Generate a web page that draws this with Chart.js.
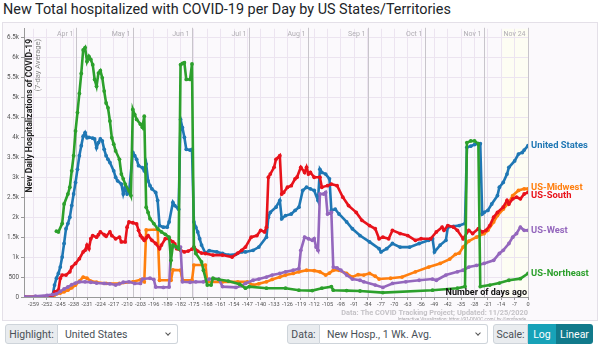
<!DOCTYPE html>
<html>
<head>
<meta charset="utf-8">
<script src="https://cdn.jsdelivr.net/npm/chart.js@4"></script>
<style>
  body { margin: 0; width: 600px; height: 349px; overflow: hidden; background: #fff; font-family: Roboto, sans-serif; position: relative; }
  #title { position: absolute; left: 3px; top: 1px; font-size: 14.4px; color: #212529; white-space: nowrap; }
  #box { position: absolute; left: 2px; top: 22px; width: 596px; height: 299px; box-sizing: border-box; border: 1px solid #e4e0e8; background: #fbf9fc; }
  #box canvas { position: absolute; left: 0; top: 0; }
  .grp { position: absolute; top: 324px; height: 20px; display: flex; font-size: 10.5px; color: #495057; }
  .lbl { background: #e9ecef; border: 1px solid #ced4da; border-radius: 3px 0 0 3px; box-sizing: border-box; display: flex; align-items: center; justify-content: center; }
  .sel { background: #fff; border: 1px solid #ced4da; border-left: none; border-radius: 0 3px 3px 0; box-sizing: border-box; display: flex; align-items: center; padding-left: 7px; position: relative; }
  .chev { position: absolute; right: 7px; top: 6px; width: 3px; height: 3px; border-right: 1.2px solid #555; border-bottom: 1.2px solid #555; transform: rotate(45deg); }
  .btn { color: #fff; display: flex; align-items: center; justify-content: center; box-sizing: border-box; }
</style>
</head>
<body>
<div id="title">New Total hospitalized with COVID-19 per Day by US States/Territories</div>
<div id="box"><canvas id="myChart" width="594" height="297"></canvas></div>

<div class="grp" style="left:5px;">
  <div class="lbl" style="width:53px;">Highlight:</div>
  <div class="sel" style="width:120px;">United States<span class="chev"></span></div>
</div>
<div class="grp" style="left:287px;">
  <div class="lbl" style="width:33px;">Data:</div>
  <div class="sel" style="width:168px;">New Hosp., 1 Wk. Avg.<span class="chev"></span></div>
</div>
<div class="grp" style="left:493px;">
  <div class="lbl" style="width:35px;">Scale:</div>
  <div class="btn" style="width:28px; background:#17a2b8;">Log</div>
  <div class="btn" style="width:37px; background:#117a8b; border-radius:0 3px 3px 0;">Linear</div>
</div>

<script>
// Data (days before Nov 24, 2020 -> hospitalizations, 7-day avg)
const usDays = [-264, -250, -249, -248, -247, -246, -245, -244, -243, -242, -241, -240, -239, -238, -237, -236, -235, -234, -233, -232, -231, -230, -228, -227, -226, -225, -224, -223, -222, -221, -220, -219, -217, -216, -215, -213, -212, -211, -210, -209, -207, -206, -205, -204, -202, -201, -200, -199, -198, -197, -195, -194, -193, -191, -189, -188, -186, -185, -183, -182, -181, -180, -179, -177, -176, -175, -174, -173, -172, -171, -169, -167, -163, -160, -157, -153, -150, -148, -144, -141, -137, -136, -135, -132, -130, -129, -127, -124, -122, -120, -118, -116, -114, -112, -110, -109, -108, -106, -104, -103, -101, -99, -95, -92, -88, -83, -78, -77, -74, -71, -67, -62, -57, -52, -50, -49, -46, -43, -42, -39, -36, -33, -32, -30, -28, -26, -25, -24, -23, -21, -19, -16, -15, -13, -11, -10, -7, -5, -3, -2, 0];
const usValues = [0, 0, 50, 300, 470, 590, 750, 1000, 1340, 1710, 1840, 2000, 2290, 2580, 2870, 3200, 3540, 3790, 4030, 4120, 3990, 4000, 3980, 3960, 3740, 3870, 3960, 3910, 3700, 3540, 3450, 3370, 3160, 3000, 2910, 2830, 2580, 2750, 2580, 2620, 3620, 3540, 3450, 3290, 3240, 3160, 3330, 2910, 2790, 2710, 2620, 2420, 1790, 1750, 1750, 1880, 2370, 2290, 2200, 4450, 4240, 4000, 3700, 3680, 3700, 1880, 1750, 1630, 1460, 1300, 1100, 1160, 1130, 1090, 1050, 1070, 1130, 1130, 1170, 1250, 1500, 2000, 2120, 2250, 2420, 1960, 2040, 2080, 2170, 2250, 2670, 2750, 2710, 2670, 2420, 3200, 3120, 3080, 2960, 2170, 2200, 2080, 1880, 1710, 1540, 1380, 1210, 1130, 1210, 1340, 1250, 1250, 1340, 1420, 1460, 1130, 1300, 1420, 1750, 1770, 1790, 1840, 3750, 3780, 3820, 3840, 3840, 2080, 2120, 2170, 2330, 2540, 2750, 2870, 3080, 3250, 3410, 3580, 3620, 3680, 3790];

const mwDays = [-264, -252, -248, -245, -243, -241, -239, -237, -235, -233, -231, -229, -226, -221, -214, -207, -203, -201, -200, -194, -193, -187, -186, -182, -181, -176, -175, -169, -168, -160, -152, -147, -144, -141, -137, -134, -130, -127, -123, -120, -116, -112, -109, -106, -104, -102, -99, -95, -92, -89, -86, -83, -80, -78, -72, -66, -59, -52, -46, -41, -38, -36, -34, -31, -27, -23, -21, -18, -16, -13, -10, -8, -5, -2, 0];
const mwValues = [5, 20, 50, 100, 130, 170, 230, 300, 400, 500, 470, 400, 370, 340, 340, 380, 430, 380, 1680, 1690, 420, 420, 680, 670, 420, 420, 800, 800, 380, 380, 380, 380, 300, 330, 380, 440, 500, 550, 590, 630, 670, 660, 630, 550, 600, 670, 670, 590, 500, 560, 550, 590, 520, 450, 470, 500, 630, 750, 840, 950, 1070, 1100, 1250, 1400, 1500, 1590, 1670, 1880, 2040, 2200, 2370, 2540, 2670, 2710, 2710];

const southDays = [-264, -250, -249, -248, -246, -245, -244, -242, -240, -239, -237, -235, -233, -232, -231, -230, -229, -228, -226, -225, -224, -222, -221, -219, -218, -216, -214, -213, -211, -210, -209, -207, -205, -204, -203, -202, -201, -200, -199, -197, -195, -193, -192, -190, -188, -186, -185, -184, -182, -180, -178, -176, -175, -173, -171, -169, -165, -160, -155, -152, -150, -148, -145, -142, -140, -138, -137, -136, -135, -133, -132, -130, -129, -128, -126, -124, -122, -121, -119, -117, -116, -115, -114, -112, -109, -108, -105, -103, -100, -97, -94, -90, -87, -83, -80, -78, -76, -73, -71, -67, -63, -59, -56, -51, -48, -45, -44, -42, -39, -37, -34, -31, -29, -26, -24, -22, -20, -18, -16, -13, -11, -10, -8, -6, -4, -2, 0];
const southValues = [0, 0, 50, 130, 170, 470, 550, 550, 630, 750, 840, 960, 1130, 1170, 1300, 1210, 1460, 1540, 1500, 1560, 1630, 1560, 1520, 1630, 1540, 1460, 1500, 1380, 1380, 1750, 1880, 1860, 1830, 1670, 1540, 1480, 1420, 1480, 1540, 1420, 1340, 1210, 1300, 1460, 1460, 1380, 1330, 1210, 1170, 1130, 1150, 1200, 1250, 1150, 1100, 1090, 1050, 1050, 1000, 1100, 1170, 1250, 1500, 1540, 1670, 1630, 1750, 3000, 3080, 3250, 3450, 3540, 2580, 2620, 2750, 2790, 2960, 3000, 3250, 3120, 3250, 3080, 3120, 3000, 3000, 2750, 2790, 2830, 2790, 2500, 2290, 2120, 1920, 1790, 1710, 1460, 1500, 1460, 1670, 1590, 1540, 1420, 1460, 1460, 1630, 1750, 1670, 1790, 1750, 1670, 1460, 1670, 1590, 1710, 1630, 1670, 1790, 2000, 2120, 2250, 2420, 2330, 2460, 2500, 2460, 2580, 2620];

const westDays = [-264, -258, -252, -249, -247, -245, -243, -241, -239, -237, -235, -232, -229, -226, -222, -219, -216, -214, -212, -209, -206, -203, -202, -198, -196, -195, -191, -188, -187, -182, -181, -177, -174, -170, -169, -167, -162, -160, -153, -150, -148, -144, -141, -137, -134, -130, -127, -123, -120, -119, -117, -115, -113, -112, -111, -110, -109, -107, -106, -105, -103, -102, -100, -98, -95, -92, -88, -86, -80, -76, -71, -64, -57, -50, -48, -43, -37, -34, -31, -27, -23, -18, -15, -13, -10, -8, -6, -4, -2, 0];
const westValues = [10, 20, 40, 60, 80, 140, 200, 250, 310, 350, 380, 380, 370, 350, 340, 330, 300, 330, 370, 380, 340, 340, 450, 470, 440, 250, 240, 250, 1250, 1250, 380, 370, 380, 380, 400, 450, 450, 260, 240, 280, 340, 420, 450, 500, 550, 590, 630, 670, 710, 1170, 1500, 1460, 1420, 1460, 1250, 1170, 2580, 2580, 2620, 2080, 2120, 750, 730, 670, 550, 450, 420, 380, 300, 240, 340, 380, 420, 450, 420, 550, 630, 670, 750, 790, 840, 920, 1090, 1170, 1340, 1500, 1590, 1750, 1670, 1670];

const neDays = [-247, -246, -244, -243, -241, -240, -239, -238, -237, -236, -235, -234, -233, -232, -231, -230, -229, -228, -227, -226, -225, -224, -223, -222, -221, -220, -219, -218, -217, -216, -214, -213, -212, -211, -209, -208, -207, -206, -205, -203, -202, -201, -200, -199, -198, -196, -194, -192, -190, -188, -187, -186, -184, -183, -182, -181, -180, -179, -177, -176, -175, -174, -171, -170, -168, -166, -165, -162, -157, -151, -148, -146, -137, -127, -120, -113, -108, -103, -102, -95, -88, -76, -50, -37, -33, -32, -30, -28, -26, -25, -20, -15, -10, -4, 0];
const neValues = [1650, 1630, 1840, 2330, 2580, 2750, 3160, 3540, 4160, 4620, 5100, 5600, 6190, 6250, 5900, 6030, 5950, 5820, 5450, 5280, 5610, 5670, 5490, 5160, 4860, 4740, 4410, 3990, 3830, 3660, 3450, 3080, 2960, 2830, 2660, 2540, 4700, 4570, 4450, 4330, 4250, 4530, 2250, 2120, 1960, 1840, 1710, 1630, 1570, 1500, 920, 1300, 1250, 1210, 5820, 5850, 5870, 5450, 5450, 5840, 1250, 1090, 880, 670, 300, 300, 470, 440, 400, 320, 220, 260, 220, 220, 170, 160, 220, 260, 170, 160, 150, 110, 170, 220, 260, 3870, 3910, 3910, 3840, 260, 300, 350, 420, 460, 590];

const xTickValues = [-259, -252, -245, -238, -231, -224, -217, -210, -203, -196, -189, -182, -175, -168, -161, -154, -147, -140, -133, -126, -119, -112, -105, -98, -91, -84, -77, -70, -63, -56, -49, -42, -35, -28, -21, -14, -7, 0];
const yTickValues = [0, 500, 1000, 1500, 2000, 2500, 3000, 3500, 4000, 4500, 5000, 5500, 6000, 6500];

const monthDays = [-237, -207, -176, -146, -115, -84, -54, -23, 0];
const monthLabels = ['Apr 1', 'May 1', 'Jun 1', 'Jul 1', 'Aug 1', 'Sep 1', 'Oct 1', 'Nov 1', 'Nov 24'];

function pts(days, vals) {
  return days.map((d, i) => ({ x: d, y: vals[i] }));
}

function series(label, days, vals, color) {
  return {
    label: label,
    data: pts(days, vals),
    borderColor: color,
    backgroundColor: color,
    borderWidth: 2.6,
    pointRadius: 1.9,
    pointBorderWidth: 0,
    pointHoverRadius: 2,
    tension: 0
  };
}

// labels drawn at the right end of each line (small nudges so they don't collide)
const endLabelNudge = { 'United States': 0, 'US-Midwest': -1, 'US-South': 3, 'US-West': 0, 'US-Northeast': 0 };

const overlayPlugin = {
  id: 'overlay',
  beforeDraw(chart) {
    const { ctx, chartArea: a, scales: { x } } = chart;
    // faint shading for most recent days
    ctx.save();
    ctx.fillStyle = '#fdfdf3';
    const x0 = x.getPixelForValue(-13.5);
    ctx.fillRect(x0, a.top, a.right - x0, a.bottom - a.top);
    ctx.restore();
  },
  beforeDatasetsDraw(chart) {
    const { ctx, chartArea: a, scales: { x } } = chart;
    ctx.save();
    ctx.strokeStyle = '#c8c5cb';
    ctx.lineWidth = 1;
    ctx.font = '7px Roboto';
    ctx.fillStyle = '#b0adb3';
    ctx.textAlign = 'right';
    ctx.textBaseline = 'middle';
    monthDays.forEach((d, i) => {
      const px = Math.round(x.getPixelForValue(d)) + 0.5;
      ctx.beginPath();
      ctx.moveTo(px, a.top - 1);
      ctx.lineTo(px, a.bottom);
      ctx.stroke();
      ctx.fillText(monthLabels[i], px - 3, a.top + 5);
    });
    ctx.restore();
  },
  afterDraw(chart) {
    const { ctx, chartArea: a, scales: { y } } = chart;
    ctx.save();
    // y axis title inside plot
    ctx.translate(a.left + 5.5, a.top + 10);
    ctx.rotate(-Math.PI / 2);
    ctx.textAlign = 'right';
    ctx.textBaseline = 'middle';
    ctx.font = 'bold 8.6px Roboto';
    ctx.fillStyle = '#222';
    ctx.fillText('New Daily Hospitalizations of COVID-19', 0, 0);
    ctx.font = '7.6px Roboto';
    ctx.fillStyle = '#888';
    ctx.fillText('(7-day Average)', 0, 8.5);
    ctx.restore();

    ctx.save();
    ctx.textAlign = 'right';
    ctx.font = 'bold 9px Roboto';
    ctx.fillStyle = '#111';
    ctx.textBaseline = 'alphabetic';
    ctx.fillText('Number of days ago', a.right - 1, a.bottom - 2);
    ctx.font = 'bold 7.4px Roboto';
    ctx.fillStyle = '#c4c2c6';
    ctx.fillText('Data: The COVID Tracking Project; Updated: 11/25/2020', a.right, a.bottom + 18);
    ctx.font = '4.6px Roboto';
    ctx.fillStyle = '#a8a6aa';
    ctx.fillText('Interactive Visualization: https://91-DIVOC.com/ by @profwade_', a.right, a.bottom + 23.5);

    // series names at line ends
    ctx.textAlign = 'left';
    ctx.textBaseline = 'middle';
    ctx.font = 'bold 9.4px Roboto';
    chart.data.datasets.forEach(ds => {
      const last = ds.data[ds.data.length - 1];
      ctx.fillStyle = ds.borderColor;
      ctx.fillText(ds.label, a.right + 3, y.getPixelForValue(last.y) + endLabelNudge[ds.label]);
    });
    ctx.restore();
  }
};

const ctx = document.getElementById('myChart').getContext('2d');

const chart = new Chart(ctx, {
  type: 'line',
  data: {
    datasets: [
      series('US-Northeast', neDays, neValues, '#2ca02c'),
      series('US-West', westDays, westValues, '#9467bd'),
      series('US-South', southDays, southValues, '#e8121b'),
      series('US-Midwest', mwDays, mwValues, '#ff7f0e'),
      series('United States', usDays, usValues, '#1f77b4')
    ]
  },
  options: {
    responsive: false,
    animation: false,
    devicePixelRatio: 1,
    layout: { padding: { left: 0, right: 69, top: 3, bottom: 0 } },
    plugins: { legend: { display: false }, tooltip: { enabled: false } },
    scales: {
      x: {
        type: 'linear',
        min: -264,
        max: 0,
        afterBuildTicks: s => { s.ticks = xTickValues.map(v => ({ value: v })); },
        afterFit: s => { s.height = 23; },
        ticks: { autoSkip: false, maxRotation: 0, padding: 1, font: { size: 5.6, family: 'Roboto' }, color: '#555', callback: v => String(v) },
        grid: { color: '#ece4f0', tickLength: 3, tickColor: '#999' },
        border: { color: '#999' }
      },
      y: {
        min: 0,
        max: 6720,
        afterBuildTicks: s => { s.ticks = yTickValues.map(v => ({ value: v })); },
        afterFit: s => { s.width = 21; },
        ticks: {
          padding: 2,
          font: { size: 6.3, family: 'Roboto' },
          color: '#555',
          callback: v => v === 0 ? '0' : (v < 1000 ? String(v) : (v / 1000) + 'k')
        },
        grid: { color: '#ece4f0', tickLength: 3, tickColor: '#999' },
        border: { color: '#999' }
      }
    }
  },
  plugins: [overlayPlugin]
});
</script>
</body>
</html>
